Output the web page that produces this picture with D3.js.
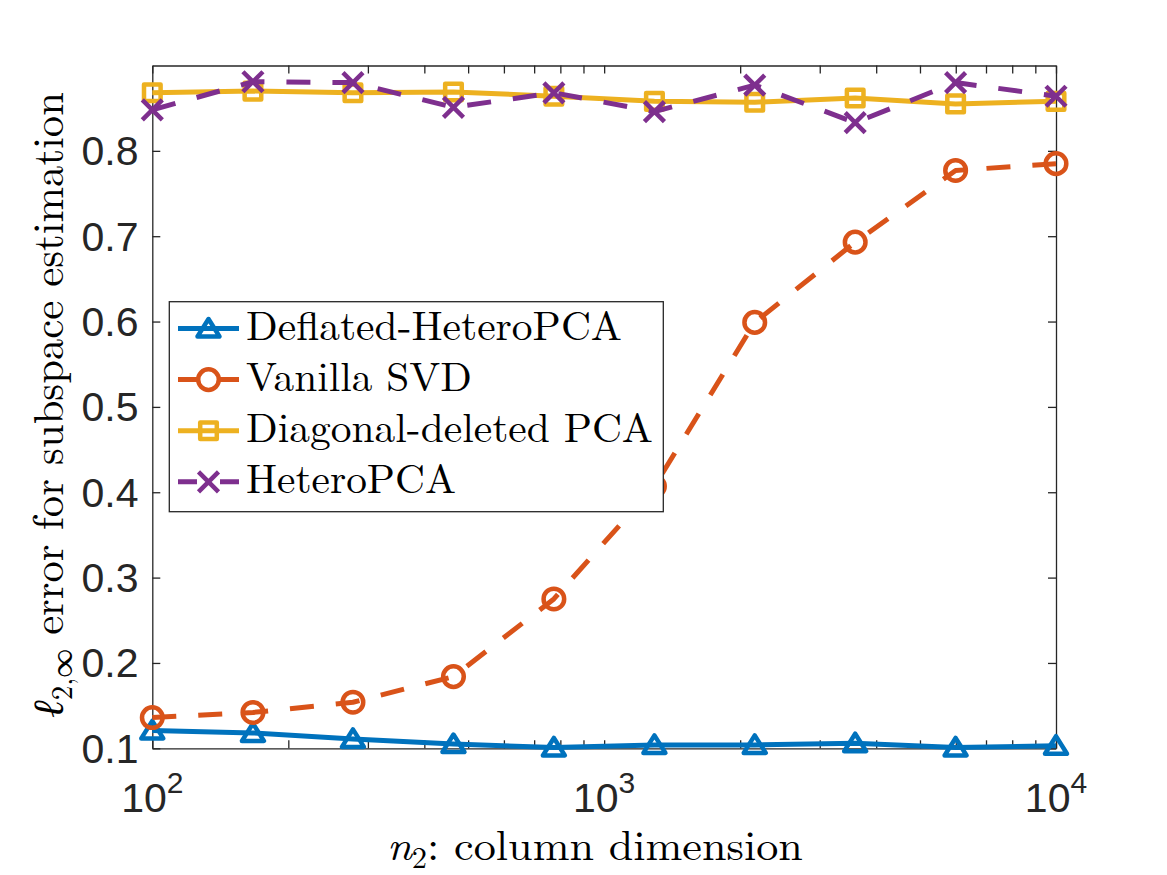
<!DOCTYPE html>
<html><head><meta charset="utf-8">
<script src="https://cdn.jsdelivr.net/npm/d3@7"></script>
<style>body{margin:0;background:#fff}</style>
</head><body>
<svg id="c" width="1167" height="875"></svg>
<script>
// ---- data ----
const nValues = [100, 167, 278, 464, 774, 1292, 2154, 3594, 5995, 10000];
const deflatedHeteroPCA = [0.121, 0.118, 0.111, 0.105, 0.101, 0.104, 0.104, 0.106, 0.101, 0.103];
const vanillaSVD        = [0.136, 0.142, 0.154, 0.184, 0.275, 0.407, 0.599, 0.693, 0.777, 0.785];
const diagonalDeleted   = [0.868, 0.870, 0.868, 0.869, 0.864, 0.858, 0.857, 0.862, 0.855, 0.858];
const heteroPCA         = [0.848, 0.881, 0.880, 0.851, 0.868, 0.846, 0.877, 0.833, 0.880, 0.864];
const seriesNames = ["Deflated-HeteroPCA", "Vanilla SVD", "Diagonal-deleted PCA", "HeteroPCA"];
const xMajorTicks = [100, 1000, 10000];
const xTickExponents = ["2", "3", "4"];
const yTicks = [0.1, 0.2, 0.3, 0.4, 0.5, 0.6, 0.7, 0.8];
const yTickLabels = ["0.1", "0.2", "0.3", "0.4", "0.5", "0.6", "0.7", "0.8"];

// ---- styles ----
const colors = ["#0072BD", "#D95319", "#EDB120", "#7E2F8E"];
const dashed = [false, true, false, true];
const markers = ["tri", "circle", "square", "x"];
const seriesData = [deflatedHeteroPCA, vanillaSVD, diagonalDeleted, heteroPCA];
const axisColor = "#262626";
const serif = "'Latin Modern Roman','CMU Serif','Liberation Serif','Times New Roman',serif";
const sans = "'Liberation Sans',Arial,Helvetica,sans-serif";

const svg = d3.select("#c");
svg.append("rect").attr("width", 1167).attr("height", 875).attr("fill", "#fff");

const L = 152.3, R = 1056, T = 65.5, B = 748.3;
const x = d3.scaleLog().domain([100, 10000]).range([L, R]);
const y = d3.scaleLinear().domain([0.1, 0.9]).range([B, T]);

// ---- axes ----
const tickLen = 8;
const minorX = x.ticks().filter(v => !xMajorTicks.includes(v));
function styleAxis(g) {
  g.selectAll("path").attr("stroke", axisColor).attr("stroke-width", 1.3);
  g.selectAll("line").attr("stroke", axisColor).attr("stroke-width", 1.3);
  g.selectAll("text").remove();
}
const allX = xMajorTicks.concat(minorX);
svg.append("g").attr("transform", `translate(0,${B})`)
  .call(d3.axisBottom(x).tickValues(allX).tickSize(-tickLen).tickSizeOuter(0).tickFormat(""))
  .call(styleAxis);
svg.append("g").attr("transform", `translate(0,${T})`)
  .call(d3.axisTop(x).tickValues(allX).tickSize(-tickLen).tickSizeOuter(0).tickFormat(""))
  .call(styleAxis);
svg.append("g").attr("transform", `translate(${L},0)`)
  .call(d3.axisLeft(y).tickValues(yTicks).tickSize(-tickLen).tickSizeOuter(0).tickFormat(""))
  .call(styleAxis);
svg.append("g").attr("transform", `translate(${R},0)`)
  .call(d3.axisRight(y).tickValues(yTicks).tickSize(-tickLen).tickSizeOuter(0).tickFormat(""))
  .call(styleAxis);

// tick labels
yTicks.forEach((v, i) => {
  svg.append("text").attr("x", 138.5).attr("y", y(v) + 14.5)
    .attr("text-anchor", "end").attr("fill", axisColor)
    .style("font-family", sans).style("font-size", "41px").text(yTickLabels[i]);
});
xMajorTicks.forEach((v, i) => {
  const t = svg.append("text").attr("x", x(v)).attr("y", 811.7)
    .attr("text-anchor", "middle").attr("fill", axisColor)
    .style("font-family", sans).style("font-size", "41px");
  t.append("tspan").text("10");
  t.append("tspan").attr("dy", -18.4).style("font-size", "30px").text(xTickExponents[i]);
});

// x label (stretched along text direction to match reference width)
{
  const g = svg.append("g");
  const t = g.append("text").attr("x", 0).attr("y", 0).attr("fill", "#000")
    .style("font-family", serif).style("font-size", "42px");
  t.append("tspan").style("font-style", "italic").text("n");
  t.append("tspan").attr("dy", 8).style("font-size", "29px").text("2");
  t.append("tspan").attr("dy", -8).text(":  column dimension");
  const bb = t.node().getBBox();
  const k = 416 / bb.width;
  t.attr("x", -bb.width / 2);
  g.attr("transform", `translate(595,860) scale(${k},1)`);
}
// y label
{
  const g = svg.append("g");
  const t = g.append("text").attr("x", 0).attr("y", 0).attr("fill", "#000")
    .style("font-family", serif).style("font-size", "43px");
  t.append("tspan").style("font-style", "italic").text("ℓ");
  t.append("tspan").attr("dy", 9).style("font-size", "29px").text("2,∞");
  t.append("tspan").attr("dy", -9).text(" error for subspace estimation");
  const bb = t.node().getBBox();
  const k = 626 / bb.width;
  t.attr("x", -bb.width / 2);
  g.attr("transform", `translate(63,405) rotate(-90) scale(${k},1)`);
}

// ---- marker drawing ----
const mStroke = 4.5;
function drawMarker(g, type, cx, cy, color) {
  const m = g.append("g").attr("transform", `translate(${cx},${cy})`)
    .attr("fill", "none").attr("stroke", color).attr("stroke-width", mStroke)
    .attr("stroke-linejoin", "round");
  if (type === "tri") m.append("path").attr("d", "M0,-9.5L11,8L-11,8Z");
  else if (type === "circle") m.append("circle").attr("r", 10.3);
  else if (type === "square") m.append("rect").attr("x", -8.3).attr("y", -8.3).attr("width", 16.6).attr("height", 16.6);
  else if (type === "x") m.append("path").attr("d", "M-10,-10L10,10M-10,10L10,-10");
}

// ---- series ----
const line = d3.line().x(d => x(d[0])).y(d => y(d[1]));
seriesData.forEach((vals, i) => {
  const g = svg.append("g");
  const pts = nValues.map((n, j) => [n, vals[j]]);
  g.append("path").attr("d", line(pts)).attr("fill", "none")
    .attr("stroke", colors[i]).attr("stroke-width", 5)
    .attr("stroke-dasharray", dashed[i] ? "24,22" : null)
    .attr("stroke-linejoin", "round");
  pts.forEach(p => drawMarker(g, markers[i], x(p[0]), y(p[1]), colors[i]));
});

// ---- legend ----
const lg = svg.append("g");
lg.append("rect").attr("x", 169.3).attr("y", 301.7).attr("width", 494).attr("height", 210)
  .attr("fill", "#fff").attr("stroke", axisColor).attr("stroke-width", 1.3);
const legendWidths = [376, 226, 407, 210];
seriesNames.forEach((name, i) => {
  const cy = 328.5 + i * 51.1;
  lg.append("line").attr("x1", 178).attr("x2", 239).attr("y1", cy).attr("y2", cy)
    .attr("stroke", colors[i]).attr("stroke-width", 5)
    .attr("stroke-dasharray", dashed[i] ? "19,23" : null);
  drawMarker(lg, markers[i], 208.5, cy, colors[i]);
  lg.append("text").attr("x", 246).attr("y", cy + 11.5).attr("fill", "#000")
    .style("font-family", serif).style("font-size", "41px")
    .attr("textLength", legendWidths[i]).attr("lengthAdjust", "spacingAndGlyphs")
    .text(name);
});
</script>
</body></html>
